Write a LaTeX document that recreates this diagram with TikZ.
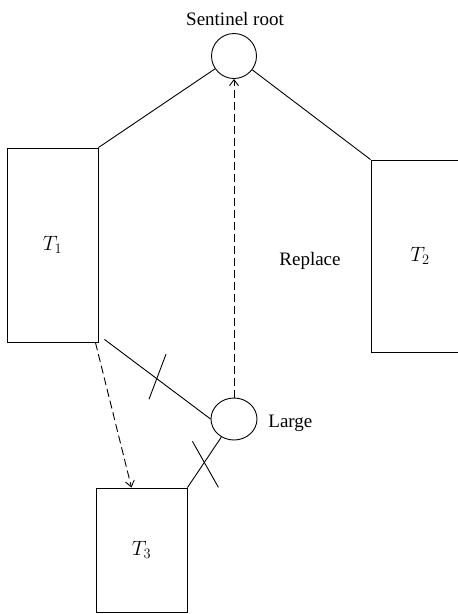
\documentclass[tikz,border=0pt]{standalone}
\usepackage{fontspec}
\setmainfont{Liberation Serif}
\usetikzlibrary{arrows.meta,calc,shapes.geometric}
\begin{document}
\begin{tikzpicture}[x=1pt,y=-1pt,line width=0.9pt,
  tree/.style={draw,rectangle,inner sep=0pt,font=\fontsize{21}{23}\selectfont},
  vertex/.style={draw,ellipse,inner sep=0pt},
  lbl/.style={font=\fontsize{19}{21}\selectfont,inner sep=0pt},
  dashedarrow/.style={dash pattern=on 8pt off 4pt,-{Straight Barb[length=6pt,width=9pt]}}]
\useasboundingbox (0,0) rectangle (458,614);
\clip (0,0) rectangle (458,614);
\node[vertex,minimum width=45pt,minimum height=45pt] (S) at (234,56) {};
\node[lbl,anchor=base] (st) at (235,25) {Sentinel root};
\node[tree,minimum width=91pt,minimum height=194pt] (T1) at (52.5,245) {$T_1$};
\node[tree,minimum width=98pt,minimum height=192pt] (T2) at (420,256) {$T_2$};
\node[tree,minimum width=91pt,minimum height=124pt] (T3) at (141.5,550) {$T_3$};
\node[vertex,minimum width=46pt,minimum height=42pt] (L) at (234,419) {};
\node[lbl,anchor=base west] (lg) at (268,427) {Large};
\node[lbl,anchor=base] (rp) at (310,265) {Replace};
\draw (T1.north east) -- (S);
\draw (S) -- (T2.north west);
\draw ([shift={(6,-3)}]T1.south east) coordinate (a) -- (L.west) coordinate (b);
\draw ($(a)!0.5!(b)+(-8.5,20)$) -- ($(a)!0.5!(b)+(8.5,-25)$);
\draw (L.235) coordinate (c) -- (T3.north east) coordinate (d);
\draw ($(c)!0.5!(d)+(-12,-21)$) -- ($(c)!0.5!(d)+(14,25)$);
\draw[dashedarrow] (L.north) -- (S.south);
\draw[dashedarrow] ([xshift=-3pt]T1.south east) -- ([xshift=-10pt]T3.north);
\end{tikzpicture}
\end{document}
